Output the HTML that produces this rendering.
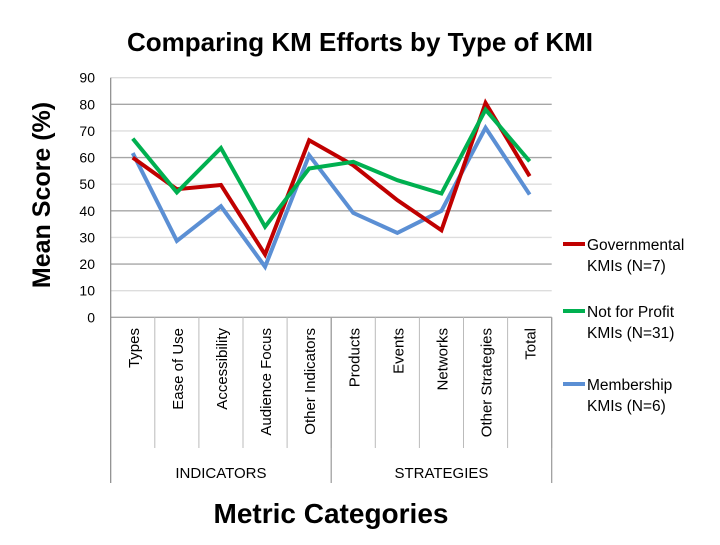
<!DOCTYPE html>
<html><head><meta charset="utf-8"><style>
body{margin:0;background:#fff;}
svg text{font-family:"Liberation Sans",sans-serif;}
</style></head><body>
<svg id="chart" width="720" height="540">
<text x="360" y="51" text-anchor="middle" font-size="26" font-weight="bold" fill="#000">Comparing KM Efforts by Type of KMI</text>
<text transform="translate(50,195) rotate(-90)" text-anchor="middle" font-size="25" font-weight="bold">Mean Score (%)</text>
<text x="331" y="523" text-anchor="middle" font-size="28" font-weight="bold">Metric Categories</text>
<g id="grid"></g><g id="axes"></g><g id="series"></g><g id="legend"></g>
</svg>
<script>
const categories=["Types","Ease of Use","Accessibility","Audience Focus","Other Indicators","Products","Events","Networks","Other Strategies","Total"];
const groups=["INDICATORS","STRATEGIES"];
const groupSizes=[5,5];
const yTicks=[0,10,20,30,40,50,60,70,80,90];
const governmental=[60,48.1,49.7,23.6,66.5,57.1,44,32.7,80.5,53];
const notForProfit=[67.1,46.9,63.6,34,55.9,58.4,51.5,46.5,78,58.6];
const membership=[61.7,28.7,41.7,19,60.9,39.2,31.7,40,71.2,46.1];
const seriesNames=[["Governmental","KMIs (N=7)"],["Not for Profit","KMIs (N=31)"],["Membership","KMIs (N=6)"]];
const NS="http://www.w3.org/2000/svg";
const L=110.7,R=551.7,T=77.7,B=317.3;
const bw=(R-L)/categories.length;
const xs=i=>L+bw*(i+0.5);
const ys=v=>B-(v/90)*(B-T);
function mk(tag,attrs,parent,txt){const e=document.createElementNS(NS,tag);for(const k in attrs)e.setAttribute(k,attrs[k]);if(txt!==undefined)e.textContent=txt;document.getElementById(parent).appendChild(e);return e;}
yTicks.forEach(t=>{
  const g=mk('line',{x1:L,x2:R,y1:ys(t),y2:ys(t),stroke:t%20===10&&t>0?'#ddd':'#a6a6a6','stroke-width':1.3},'grid');
  
  
  const tl=mk('text',{x:95,y:ys(t)+5,'text-anchor':'end','font-size':14,fill:'#000'},'grid',t);
  
  
});
const ax=mk('line',{x1:L,x2:L,y1:T,y2:483,stroke:'#888','stroke-width':1.2},'axes');


categories.forEach((c,i)=>{
  const d=mk('line',{x1:L+bw*(i+1),x2:L+bw*(i+1),y1:B,y2:448,stroke:'#bbb','stroke-width':1},'axes');
  
  
  const t=mk('text',{transform:`translate(${xs(i)+6},328) rotate(-90)`,'text-anchor':'end','font-size':15},'axes',c);
  
  
});
let acc=0;
groups.forEach((g,gi)=>{
  const x0=L+bw*acc; acc+=groupSizes[gi]; const x1=L+bw*acc;
  const d=mk('line',{x1:x1,x2:x1,y1:B,y2:483,stroke:'#999','stroke-width':1.2},'axes');
  
  
  const t=mk('text',{x:(x0+x1)/2,y:478,'text-anchor':'middle','font-size':15},'axes',g);
  
  
});
const colors=['#c00000','#00b050','#5b8fd4'];
const order=[[membership,2],[governmental,0],[notForProfit,1]];
order.forEach(([data,ci])=>{
  const p=mk('polyline',{points:data.map((v,i)=>xs(i)+','+ys(v)).join(' '),fill:'none',stroke:colors[ci],'stroke-width':4,'stroke-linejoin':'miter'},'series');
  
  
});
const ly=[244,311,384];
seriesNames.forEach((n,i)=>{
  const l=mk('line',{x1:563,x2:585,y1:ly[i],y2:ly[i],stroke:colors[i],'stroke-width':4},'legend');
  
  
  const t=mk('text',{x:587,y:ly[i]+6,'font-size':15.5},'legend',n[0]);
  
  
  const t2=mk('text',{x:587,y:ly[i]+27,'font-size':15.5},'legend',n[1]);
  
  
});
</script>
</body></html>
